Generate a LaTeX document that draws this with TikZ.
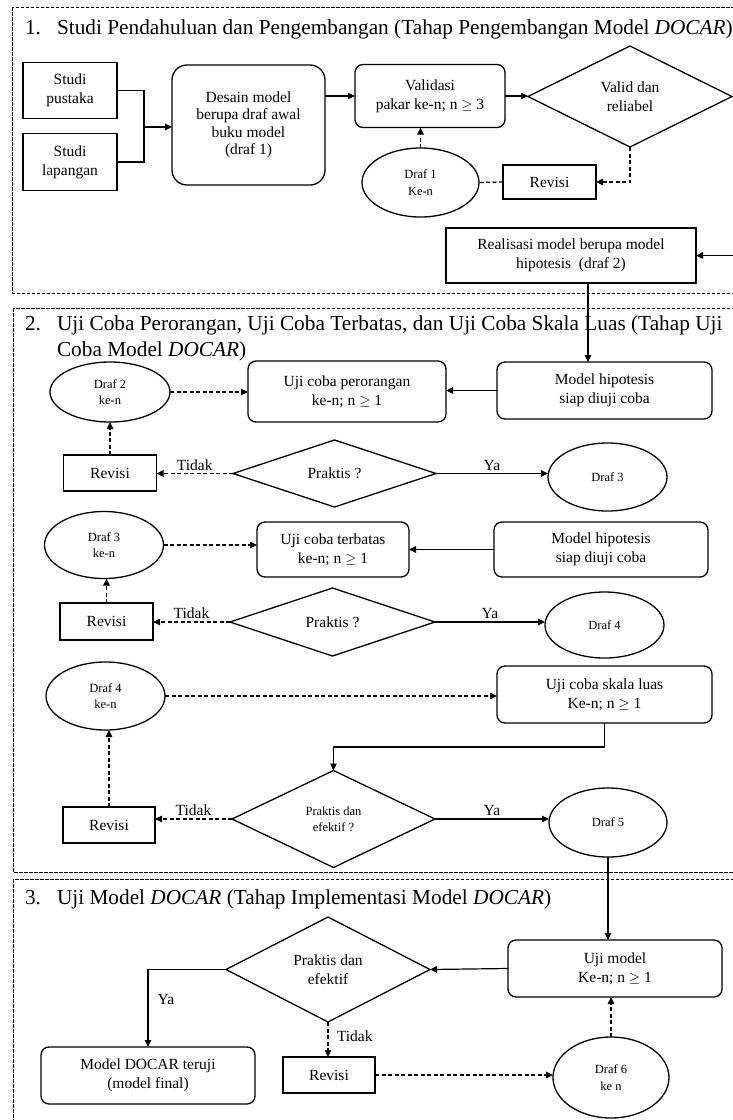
\documentclass[tikz,border=0pt]{standalone}
\usepackage{fontspec}
\setmainfont{Liberation Serif}
\usetikzlibrary{shapes.geometric,arrows.meta}
\begin{document}
\begin{tikzpicture}[x=1pt,y=-1pt,
  every node/.style={inner sep=0pt, outer sep=0pt, align=center},
  base/.style={draw, line width=1.3pt, font=\fontsize{15.5}{19}\selectfont},
  sq/.style={base, rectangle},
  rr/.style={base, rectangle, rounded corners=8pt},
  ell/.style={base, ellipse, font=\fontsize{12.5}{16.5}\selectfont},
  dia/.style={base, diamond},
  ar/.style={line width=1.2pt, -{Triangle[length=7pt,width=6.5pt]}},
  da/.style={ar, dash pattern=on 4pt off 2.5pt},
  dl/.style={line width=1.2pt, dash pattern=on 4pt off 2.5pt},
  sl/.style={line width=1.2pt},
  sec/.style={line width=1pt, dash pattern=on 3.5pt off 1.5pt},
  ttl/.style={font=\fontsize{21.3}{25}\selectfont, anchor=base west},
  lbl/.style={font=\fontsize{15.5}{18}\selectfont}
]
\useasboundingbox (0,0) rectangle (733,1120);
\fill[white] (0,0) rectangle (733,1120);
\begin{scope}
\clip (0,0) rectangle (733,1120);
\draw[sec] (12.5,7) rectangle (760,293);
\draw[sec] (13,308) rectangle (760,872);
\draw[sec] (13,879) rectangle (760,1140);
\end{scope}

% titles
\node[ttl] (t1n) at (25,34) {1.};
\node[ttl] (t1) at (57,34) {Studi Pendahuluan dan Pengembangan (Tahap Pengembangan Model \textit{DOCAR})};
\node[ttl] (t2n) at (25,330) {2.};
\node[ttl] (t2a) at (57,330) {Uji Coba Perorangan, Uji Coba Terbatas, dan Uji Coba Skala Luas (Tahap Uji};
\node[ttl] (t2b) at (57,356) {Coba Model \textit{DOCAR})};
\node[ttl] (t3n) at (25,904) {3.};
\node[ttl] (t3) at (57,904) {Uji Model \textit{DOCAR} (Tahap Implementasi Model \textit{DOCAR})};

% section 1
\node[sq, minimum width=94pt, minimum height=56pt] (sp) at (70,90.5) {Studi\\pustaka};
\node[sq, minimum width=94pt, minimum height=57pt] (sla) at (70,162) {Studi\\lapangan};
\node[rr, rounded corners=15pt, minimum width=153pt, minimum height=120pt, font=\fontsize{15.5}{17.5}\selectfont] (des) at (248.5,125) {Desain model\\berupa draf awal\\buku model\\(draf 1)};
\node[rr, minimum width=150pt, minimum height=63pt] (val) at (430,96) {Validasi\\pakar ke-n; n $\geq$ 3};
\node[dia, minimum width=204pt, minimum height=101pt] (vd) at (630,96.5) {Valid dan\\reliabel};
\node[sq, minimum width=93pt, minimum height=34pt] (rev1) at (549.5,182) {Revisi};
\node[ell, minimum width=117pt, minimum height=69pt] (d1) at (420.5,182.5) {Draf 1\\Ke-n};
\node[sq, minimum width=250pt, minimum height=55pt] (real) at (571,255.5) {Realisasi model berupa model\\hipotesis\ \ (draf 2)};
\coordinate (j1) at (144,127);
\coordinate (re) at (733,255.5);
\coordinate (x588) at (588,0);

\draw[sl] (sp.east) -| (j1) |- (sla.east);
\draw[ar] (j1) -- (j1 -| des.west);
\draw[ar] (des.east |- val) -- (val.west);
\draw[ar] (val.east) -- (val.east -| vd.west);
\draw[da] (vd.south) |- (rev1.east);
\draw[dl] (rev1.west) -- (d1.east);
\draw[da] (d1.north) -- (d1.north |- val.south);
\draw[ar] (re) -- (real.east);

% section 2
\node[ell, minimum width=120pt, minimum height=60pt] (d2) at (110,392) {Draf 2\\ke-n};
\node[rr, minimum width=198pt, minimum height=61pt] (up) at (347,391.5) {Uji coba perorangan\\ke-n; n $\geq$ 1};
\node[rr, minimum width=215pt, minimum height=57pt] (mh1) at (604.5,390.5) {Model hipotesis\\siap diuji coba};
\node[dia, minimum width=203pt, minimum height=67pt] (p1) at (334.5,473.5) {Praktis ?};
\node[sq, minimum width=93pt, minimum height=36pt] (rev2) at (110,473) {Revisi};
\node[ell, minimum width=119pt, minimum height=68pt] (d3) at (607.5,477) {Draf 3};

\node[ell, minimum width=119pt, minimum height=67pt] (d3k) at (104,545) {Draf 3\\ke-n};
\node[rr, minimum width=152pt, minimum height=55pt] (ut) at (333,549.5) {Uji coba terbatas\\ke-n; n $\geq$ 1};
\node[rr, minimum width=214pt, minimum height=55pt] (mh2) at (601,549.5) {Model hipotesis\\siap diuji coba};
\node[dia, minimum width=205pt, minimum height=68pt] (p2) at (332.5,622) {Praktis ?};
\node[sq, minimum width=93pt, minimum height=37pt] (rev3) at (106.5,621.5) {Revisi};
\node[ell, minimum width=119pt, minimum height=66pt] (d4) at (604.5,625) {Draf 4};

\node[ell, minimum width=119pt, minimum height=68pt] (d4k) at (105.5,696) {Draf 4\\ke-n};
\node[rr, minimum width=215pt, minimum height=57pt] (usl) at (604.5,694.5) {Uji coba skala luas\\Ke-n; n $\geq$ 1};
\node[dia, minimum width=203pt, minimum height=97pt, font=\fontsize{12.5}{16.5}\selectfont] (p3) at (333.5,819) {Praktis dan\\efektif ?};
\node[sq, minimum width=92pt, minimum height=36pt] (rev4) at (109,825) {Revisi};
\node[ell, minimum width=118pt, minimum height=69pt] (d5) at (608,822.5) {Draf 5};

\draw[ar] (real.south -| x588) -- (mh1.north -| x588);
\draw[da] (d2.east) -- (d2.east -| up.west);
\draw[ar] (mh1.west) -- (mh1.west -| up.east);
\draw[da] (p1.west) -- (p1.west -| rev2.east) node[lbl, midway, above=3pt] (tk1) {Tidak};
\draw[da] (rev2.north) -- (d2.south);
\draw[ar] (p1.east) -- (p1.east -| d3.west) node[lbl, midway, above=3pt] (ya1) {Ya};

\draw[da] (d3k.east) -- (d3k.east -| ut.west);
\draw[ar] (mh2.west) -- (ut.east);
\draw[da] (p2.west) -- (p2.west -| rev3.east) node[lbl, midway, above=3pt] (tk2) {Tidak};
\draw[da] (rev3.north) -- (rev3.north |- d3k.south);
\draw[ar] (p2.east) -- (p2.east -| d4.west) node[lbl, midway, above=3pt] (ya2) {Ya};

\draw[da] (d4k.east) -- (d4k.east -| usl.west);
\draw[ar] (usl.south) -- ++(0,24) -| (p3.north);
\draw[da] (p3.west) -- (p3.west -| rev4.east) node[lbl, midway, above=3pt] (tk3) {Tidak};
\draw[da] (rev4.north) -- (rev4.north |- d4k.south);
\draw[ar] (p3.east) -- (p3.east -| d5.west) node[lbl, midway, above=3pt] (ya3) {Ya};

% section 3
\node[rr, minimum width=214pt, minimum height=57pt] (um) at (615,968.5) {Uji model\\Ke-n; n $\geq$ 1};
\node[dia, minimum width=204pt, minimum height=105pt] (p4) at (328,969.5) {Praktis dan\\efektif};
\node[rr, minimum width=214pt, minimum height=57pt] (mf) at (148,1075.5) {Model DOCAR teruji\\(model final)};
\node[sq, minimum width=92pt, minimum height=36pt] (rev5) at (329,1075) {Revisi};
\node[ell, minimum width=116pt, minimum height=81pt] (d6) at (611,1077.5) {Draf 6\\ke n};

\draw[ar] (d5.south) -- (d5.south |- um.north);
\draw[ar] (um.west) -- (p4.east);
\draw[ar] (p4.west) -| (mf.north);
\node[lbl] (ya4) at (166,999) {Ya};
\draw[da] (p4.south) -- (p4.south |- rev5.north);
\node[lbl, anchor=west] (tk4) at (337,1036) {Tidak};
\draw[da] (rev5.east) -- (rev5.east -| d6.west);
\draw[da] (d6.north) -- (d6.north |- um.south);
\end{tikzpicture}
\end{document}
